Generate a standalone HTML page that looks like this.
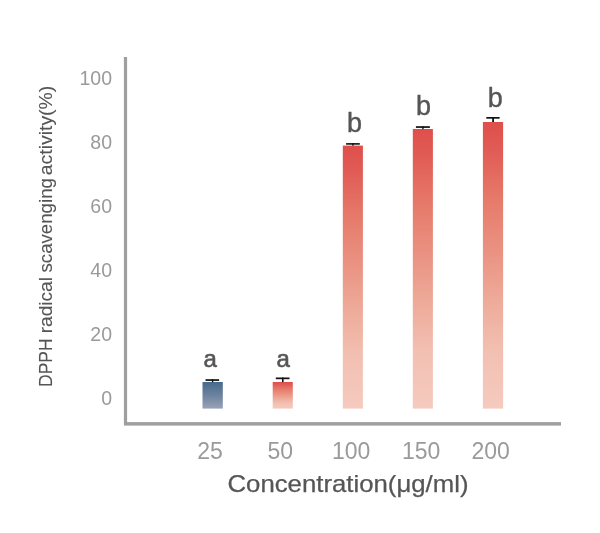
<!DOCTYPE html>
<html><head><meta charset="utf-8">
<style>
html,body{margin:0;padding:0;background:#fff;width:600px;height:533px;overflow:hidden;}
svg{display:block;will-change:transform;}
text{font-family:"Liberation Sans", sans-serif;}
</style></head>
<body>
<svg width="600" height="533" viewBox="0 0 600 533">
<defs>
<linearGradient id="gb" x1="0" y1="0" x2="0" y2="1">
<stop offset="0" stop-color="#466a8c"/>
<stop offset="0.5" stop-color="#6d829f"/>
<stop offset="1" stop-color="#99a3b6"/>
</linearGradient>
<linearGradient id="gr" x1="0" y1="0" x2="0" y2="1">
<stop offset="0" stop-color="#de4f4b"/>
<stop offset="0.1" stop-color="#e15c56"/>
<stop offset="0.27" stop-color="#e67a6a"/>
<stop offset="0.45" stop-color="#ea9282"/>
<stop offset="0.62" stop-color="#eeaa99"/>
<stop offset="0.8" stop-color="#f2c0b2"/>
<stop offset="1" stop-color="#f5cabf"/>
</linearGradient>
</defs>
<!-- axes -->
<rect x="123.9" y="57" width="3.2" height="368" fill="#9f9f9f"/>
<rect x="124" y="422.1" width="437" height="3.5" fill="#9f9f9f"/>
<!-- bars -->
<rect x="202.5" y="382" width="20.3" height="26.6" fill="url(#gb)"/>
<rect x="272.7" y="382" width="20.1" height="26.6" fill="url(#gr)"/>
<rect x="342.8" y="145.6" width="20.1" height="263" fill="url(#gr)"/>
<rect x="412.8" y="129" width="20.1" height="279.6" fill="url(#gr)"/>
<rect x="482.9" y="122" width="20.2" height="286.6" fill="url(#gr)"/>
<!-- error bars -->
<g fill="#111">
<rect x="205.5" y="379.2" width="13.6" height="1.7"/>
<rect x="211.9" y="379.2" width="1.4" height="3"/>
<rect x="275.8" y="377.5" width="13.7" height="1.7"/>
<rect x="282" y="377.5" width="1.6" height="4.6"/>
<rect x="346.1" y="143.1" width="13.7" height="1.6"/>
<rect x="352.2" y="143.1" width="1.4" height="2.6"/>
<rect x="415.9" y="126.2" width="14" height="1.7"/>
<rect x="422.2" y="126.2" width="1.4" height="3"/>
<rect x="486.3" y="117" width="13.3" height="1.7"/>
<rect x="492.2" y="117" width="1.8" height="5"/>
</g>
<!-- y tick labels -->
<g fill="#9a9a9a" font-size="19.5" text-anchor="end">
<text x="112" y="85">100</text>
<text x="112" y="149">80</text>
<text x="112" y="213">60</text>
<text x="112" y="277">40</text>
<text x="112" y="341">20</text>
<text x="112" y="405">0</text>
</g>
<!-- x tick labels -->
<g fill="#9a9a9a" font-size="23" text-anchor="middle">
<text x="210" y="458.6">25</text>
<text x="280.2" y="458.6">50</text>
<text x="351.1" y="458.6">100</text>
<text x="421.2" y="458.6">150</text>
<text x="490.7" y="458.6">200</text>
</g>
<!-- letters -->
<g fill="#555" stroke="#555" stroke-width="0.6" font-size="24" text-anchor="middle">
<text x="210.3" y="366.6">a</text>
<text x="283.1" y="366.6">a</text>
</g>
<g fill="#555" stroke="#555" stroke-width="0.4" font-size="27" text-anchor="middle">
<text x="354.5" y="131.6">b</text>
<text x="423.5" y="114.5">b</text>
<text x="495.3" y="107.4">b</text>
</g>
<!-- axis titles -->
<text x="227.5" y="492" fill="#555" stroke="#555" stroke-width="0.25" font-size="23.2" textLength="241" lengthAdjust="spacingAndGlyphs">Concentration(μg/ml)</text>
<g fill="#555" stroke="#555" stroke-width="0.1" font-size="17.8">
<text transform="translate(51.8,387) rotate(-90)" textLength="48.7" lengthAdjust="spacingAndGlyphs">DPPH</text>
<text transform="translate(51.8,333.3) rotate(-90)" textLength="56.3" lengthAdjust="spacingAndGlyphs">radical</text>
<text transform="translate(51.8,272.5) rotate(-90)" textLength="94.4" lengthAdjust="spacingAndGlyphs">scavenging</text>
<text transform="translate(51.8,175.2) rotate(-90)" textLength="89.5" lengthAdjust="spacingAndGlyphs">activity(%)</text>
</g>
</svg>
</body></html>
